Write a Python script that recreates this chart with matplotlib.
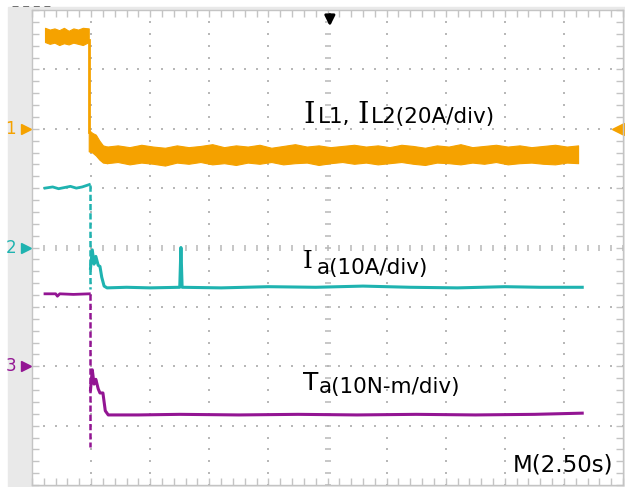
import numpy as np
import matplotlib
matplotlib.use("Agg")
import matplotlib.pyplot as plt
from matplotlib.patches import Rectangle
from matplotlib.ticker import MultipleLocator

# screen is 10 x 8 divisions, values below are in divisions
ORANGE = "#f5a200"
CYAN = "#1fb3b0"
PURPLE = "#931593"

# channel 1 : I_L1, I_L2 (thick noisy band)
ch1_pre_x = [0.22, 0.30, 0.38, 0.46, 0.54, 0.62, 0.70, 0.78, 0.86, 0.96]
ch1_pre_top = [7.70, 7.67, 7.69, 7.66, 7.70, 7.65, 7.69, 7.67, 7.70, 7.69]
ch1_pre_bot = [7.46, 7.43, 7.45, 7.41, 7.44, 7.42, 7.45, 7.43, 7.41, 7.46]
ch1_step_y = [7.50, 5.95]
ch1_tr_x = [0.96, 1.02, 1.08, 1.14, 1.20, 1.27]
ch1_tr_top = [5.98, 5.93, 5.90, 5.80, 5.72, 5.70]
ch1_tr_bot = [5.62, 5.60, 5.55, 5.48, 5.43, 5.42]
ch1_x = [1.27, 1.45, 1.65, 1.85, 2.05, 2.25, 2.45, 2.65, 2.85, 3.05, 3.25, 3.45, 3.65,
         3.85, 4.05, 4.25, 4.45, 4.65, 4.85, 5.05, 5.25, 5.45, 5.65, 5.85, 6.05, 6.25,
         6.45, 6.65, 6.85, 7.05, 7.25, 7.45, 7.65, 7.85, 8.05, 8.25, 8.45, 8.65, 8.85, 9.05, 9.24]
ch1_top = [5.70, 5.72, 5.69, 5.73, 5.70, 5.68, 5.72, 5.69, 5.71, 5.74, 5.69, 5.72, 5.70,
           5.73, 5.68, 5.71, 5.74, 5.70, 5.72, 5.69, 5.71, 5.73, 5.70, 5.72, 5.69, 5.73,
           5.71, 5.68, 5.72, 5.70, 5.74, 5.69, 5.71, 5.73, 5.70, 5.72, 5.69, 5.71, 5.73, 5.70, 5.72]
ch1_bot = [5.42, 5.44, 5.40, 5.43, 5.41, 5.38, 5.43, 5.41, 5.44, 5.40, 5.42, 5.39, 5.43,
           5.41, 5.44, 5.40, 5.42, 5.43, 5.39, 5.42, 5.44, 5.41, 5.43, 5.40, 5.42, 5.44,
           5.41, 5.39, 5.43, 5.42, 5.40, 5.43, 5.41, 5.44, 5.40, 5.42, 5.43, 5.41, 5.40, 5.43, 5.42]

# channel 2 : I_a
ch2_pre_x = [0.22, 0.35, 0.45, 0.55, 0.65, 0.75, 0.85, 0.97]
ch2_pre_y = [5.00, 5.02, 4.99, 5.01, 5.03, 5.00, 5.02, 5.06]
ch2_step_y = [5.06, 3.30]
ch2_x = [0.99, 1.02, 1.05, 1.08, 1.12, 1.15, 1.18, 1.22, 1.27, 1.60, 2.00, 2.50, 2.52, 2.54,
         3.20, 4.00, 4.80, 5.60, 6.40, 7.20, 8.00, 8.60, 9.31]
ch2_y = [3.65, 3.96, 3.72, 3.85, 3.70, 3.68, 3.50, 3.35, 3.32, 3.33, 3.32, 3.33, 4.00, 3.33,
         3.32, 3.34, 3.33, 3.35, 3.33, 3.32, 3.34, 3.33, 3.33]

# channel 3 : T_a
ch3_pre_x = [0.22, 0.40, 0.43, 0.47, 0.70, 0.97]
ch3_pre_y = [3.22, 3.22, 3.18, 3.22, 3.21, 3.22]
ch3_step_y = [3.22, 0.64]
ch3_x = [0.99, 1.02, 1.05, 1.08, 1.12, 1.15, 1.20, 1.24, 1.29, 1.80, 2.50, 3.50,
         4.50, 5.50, 6.50, 7.50, 8.50, 9.31]
ch3_y = [1.60, 1.94, 1.70, 1.78, 1.62, 1.55, 1.55, 1.25, 1.18, 1.18, 1.19, 1.18,
         1.19, 1.18, 1.19, 1.18, 1.19, 1.21]

marker_levels = [6, 4, 2]
marker_names = ["1", "2", "3"]
marker_colors = [ORANGE, CYAN, PURPLE]

fig = plt.figure(figsize=(6.25, 4.87), dpi=100)
W, H = 625.0, 487.0
fig.patches.append(Rectangle((8 / W, 0), 1, 480 / H, transform=fig.transFigure,
                             color="#e9e9e9", zorder=-5))
ax = fig.add_axes([32 / W, 2 / H, 591 / W, 475 / H])
ax.set_facecolor("white")
ax.set_xlim(0, 10)
ax.set_ylim(0, 8)

# graticule
for s in ax.spines.values():
    s.set_color("#c4c4c4")
    s.set_linewidth(1.0)
ax.set_xticks([])
ax.set_yticks([])
ax.xaxis.set_minor_locator(MultipleLocator(0.2))
ax.yaxis.set_minor_locator(MultipleLocator(0.2))
ax.tick_params(which="minor", direction="in", length=5, width=1, color="#c4c4c4",
               top=True, right=True, labelbottom=False, labelleft=False)
fine = np.arange(0, 10.01, 0.2)
fine_y = np.arange(0, 8.01, 0.2)
for yy in [1, 2, 3, 5, 6, 7]:
    ax.plot(fine, np.full_like(fine, yy), ls="none", marker="s", ms=1.6, color="#b8b8b8", mew=0)
for xx in [1, 2, 3, 4, 6, 7, 8, 9]:
    ax.plot(np.full_like(fine_y, xx), fine_y, ls="none", marker="s", ms=1.6, color="#b8b8b8", mew=0)
ax.plot(fine, np.full_like(fine, 4), ls="none", marker="|", ms=5, mew=1.1, color="#b8b8b8")
ax.plot(np.full_like(fine_y, 5), fine_y, ls="none", marker="_", ms=5, mew=1.1, color="#b8b8b8")

# traces
ax.fill_between(ch1_pre_x, ch1_pre_bot, ch1_pre_top, color=ORANGE, lw=0.8, ec=ORANGE, zorder=3)
ax.plot([0.965, 0.965], ch1_step_y, color=ORANGE, lw=2, zorder=3)
ax.fill_between(ch1_tr_x, ch1_tr_bot, ch1_tr_top, color=ORANGE, lw=0.8, ec=ORANGE, zorder=3)
ax.fill_between(ch1_x, ch1_bot, ch1_top, color=ORANGE, lw=0.8, ec=ORANGE, zorder=3)

ax.plot(ch2_pre_x, ch2_pre_y, color=CYAN, lw=2, zorder=4)
ax.plot([0.98, 0.98], ch2_step_y, color=CYAN, lw=1.8, ls=(0, (2.5, 1.2)), zorder=4)
ax.plot(ch2_x, ch2_y, color=CYAN, lw=2.2, zorder=4)

ax.plot(ch3_pre_x, ch3_pre_y, color=PURPLE, lw=2, zorder=4)
ax.plot([0.98, 0.98], ch3_step_y, color=PURPLE, lw=1.8, ls=(0, (2.5, 1.2)), zorder=4)
ax.plot(ch3_x, ch3_y, color=PURPLE, lw=2.2, zorder=4)

# channel markers
for lev, name, col in zip(marker_levels, marker_names, marker_colors):
    ax.plot([-0.1], [lev], marker=">", ms=6.5, color=col, clip_on=False)
    ax.text(-0.27, lev, name, color=col, fontsize=12, ha="right", va="center", clip_on=False)
ax.plot([9.92], [6], marker="<", ms=8, color=ORANGE, clip_on=False)
ax.annotate("", xy=(5.04, 7.68), xytext=(5.04, 7.97),
            arrowprops=dict(arrowstyle="-|>", color="black", lw=2, mutation_scale=15))

# labels (pixel positions of the screenshot)
def ft(px, py, s, **kw):
    fig.text(px / W, 1 - py / H, s, va="baseline", **kw)

ft(303, 123, "I", fontsize=21, family="DejaVu Serif")
ft(318, 123, "L1,", fontsize=15.5)
ft(357, 123, "I", fontsize=21, family="DejaVu Serif")
ft(371, 123, "L2(20A/div)", fontsize=15.5)
ft(303, 268, "I", fontsize=18, family="DejaVu Serif")
ft(317, 274, "a(10A/div)", fontsize=15.5)
ft(303, 390, "T", fontsize=18)
ft(319, 393, "a(10N-m/div)", fontsize=15.5)
fig.text(613 / W, 1 - 472 / H, "M(2.50s)", fontsize=16.5, ha="right", va="baseline")
fig.text(12 / W, 1 - 9 / H, "‒ ‒ ‒ ‒", fontsize=8, color="#555555", va="baseline")

fig.savefig("out.png", dpi=100)
